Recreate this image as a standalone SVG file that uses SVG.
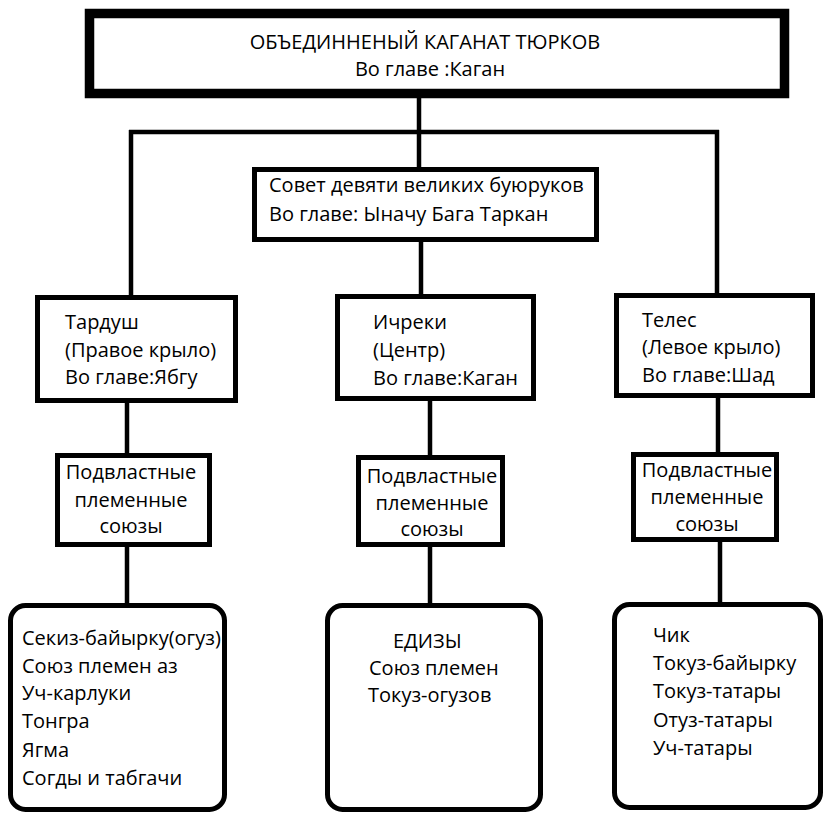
<svg xmlns="http://www.w3.org/2000/svg" width="825" height="813" viewBox="0 0 825 813">
<style>
.box{fill:#fff;stroke:#000;stroke-width:5}
.top{fill:#fff;stroke:#000;stroke-width:9.5}
.ln{fill:none;stroke:#000;stroke-width:4.5}
text{font-family:"Open Sans","Liberation Sans",sans-serif;font-size:20px;fill:#000}
.c{text-anchor:middle}
</style>
<rect width="825" height="813" fill="#fff"/>
<g id="connectors">
<path class="ln" d="M419,98 V167"/>
<path class="ln" d="M129,132 H719"/>
<path class="ln" d="M131,130 V296"/>
<path class="ln" d="M717,130 V294"/>
<path class="ln" d="M421,242 V295"/>
<path class="ln" d="M127,402 V454"/>
<path class="ln" d="M127,546 V604"/>
<path class="ln" d="M430,400 V456"/>
<path class="ln" d="M430,546 V604"/>
<path class="ln" d="M718,397 V453"/>
<path class="ln" d="M720,541 V603"/>
</g>
<g id="kaganat">
<rect class="top" x="89.5" y="13.5" width="695" height="80"/>
<text class="c" x="425" y="48.5" font-size="21">ОБЪЕДИННЕНЫЙ КАГАНАТ ТЮРКОВ</text>
<text class="c" x="430" y="75.5" font-size="19.5">Во главе :Каган</text>
</g>
<g id="sovet">
<rect class="box" x="254.5" y="169.5" width="342" height="70"/>
<text x="269" y="192">Совет девяти великих буюруков</text>
<text x="269" y="221">Во главе: Ыначу Бага Таркан</text>
</g>
<g id="tardush">
<rect class="box" x="37.5" y="297.5" width="198" height="103"/>
<text x="65" y="329">Тардуш</text>
<text x="65" y="357">(Правое крыло)</text>
<text x="65" y="384">Во главе:Ябгу</text>
</g>
<g id="ichreki">
<rect class="box" x="337.5" y="296.5" width="196" height="102"/>
<text x="373" y="329">Ичреки</text>
<text x="373" y="357">(Центр)</text>
<text x="373" y="385">Во главе:Каган</text>
</g>
<g id="teles">
<rect class="box" x="616.5" y="295.5" width="196" height="100"/>
<text x="642" y="327">Телес</text>
<text x="642" y="354">(Левое крыло)</text>
<text x="642" y="382">Во главе:Шад</text>
</g>
<g id="podv-left">
<rect class="box" x="57.5" y="455.5" width="152" height="89"/>
<text class="c" x="131" y="479">Подвластные</text>
<text class="c" x="131" y="507">племенные</text>
<text class="c" x="131" y="533">союзы</text>
</g>
<g id="podv-mid">
<rect class="box" x="358.5" y="457.5" width="144" height="87"/>
<text class="c" x="432" y="483">Подвластные</text>
<text class="c" x="432" y="510">племенные</text>
<text class="c" x="432" y="536">союзы</text>
</g>
<g id="podv-right">
<rect class="box" x="633.5" y="454.5" width="143" height="85"/>
<text class="c" x="707" y="477">Подвластные</text>
<text class="c" x="707" y="504">племенные</text>
<text class="c" x="707" y="531">союзы</text>
</g>
<g id="list-left">
<rect class="box" x="10.5" y="605.5" width="214" height="204" rx="15"/>
<text x="22" y="645">Секиз-байырку(огуз)</text>
<text x="22" y="673">Союз племен аз</text>
<text x="22" y="700">Уч-карлуки</text>
<text x="22" y="728">Тонгра</text>
<text x="22" y="757">Ягма</text>
<text x="22" y="785">Согды и табгачи</text>
</g>
<g id="list-mid">
<rect class="box" x="327.5" y="605.5" width="213" height="204" rx="15"/>
<text x="393" y="648">ЕДИЗЫ</text>
<text x="369" y="675">Союз племен</text>
<text x="368" y="702">Токуз-огузов</text>
</g>
<g id="list-right">
<rect class="box" x="614.5" y="604.5" width="206" height="203" rx="15"/>
<text x="653" y="642">Чик</text>
<text x="653" y="670">Токуз-байырку</text>
<text x="653" y="698">Токуз-татары</text>
<text x="653" y="727">Отуз-татары</text>
<text x="653" y="755">Уч-татары</text>
</g>
</svg>
